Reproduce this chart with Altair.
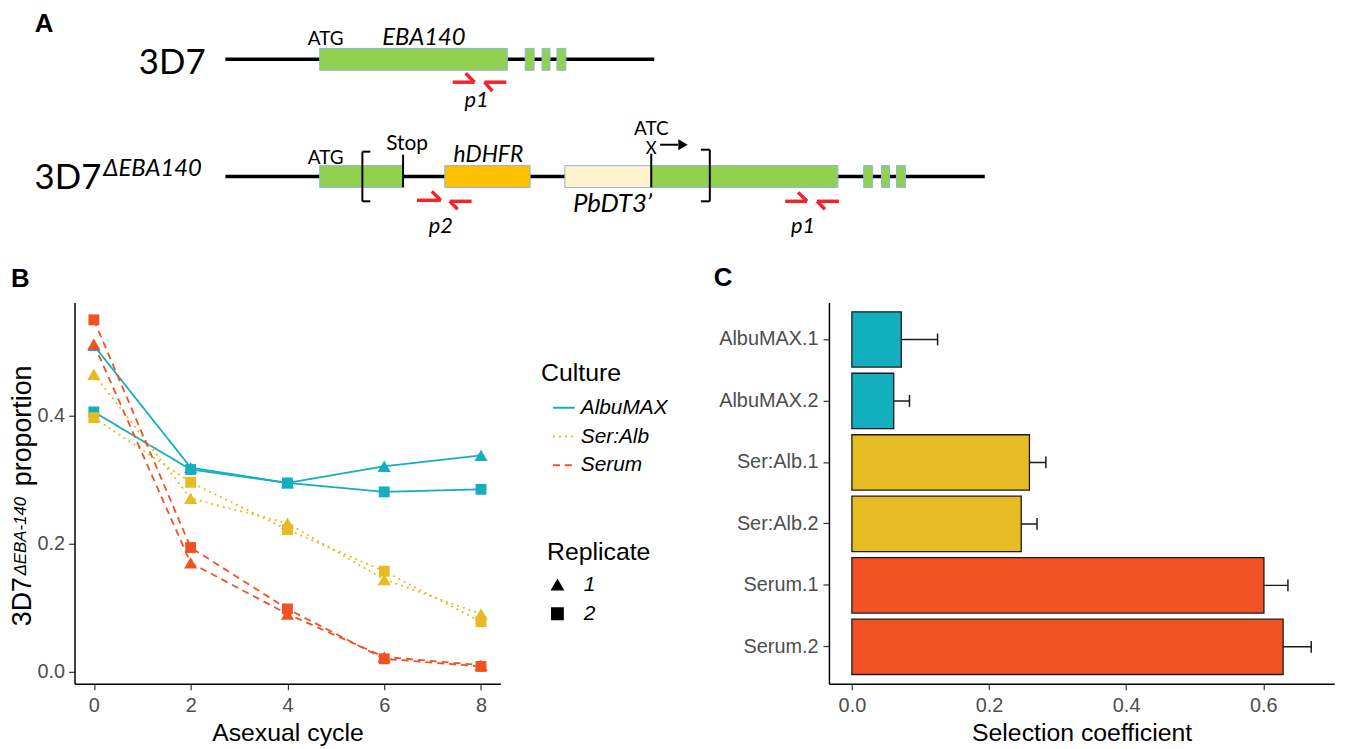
import altair as alt
import pandas as pd

# ---------------- Panel B: proportion over asexual cycles ----------------
cycles = [0, 2, 4, 6, 8]
albumax_1 = [0.510, 0.319, 0.295, 0.321, 0.338]
albumax_2 = [0.406, 0.316, 0.295, 0.281, 0.285]
seralb_1 = [0.465, 0.271, 0.232, 0.144, 0.090]
seralb_2 = [0.397, 0.296, 0.222, 0.157, 0.078]
serum_1 = [0.512, 0.170, 0.090, 0.023, 0.010]
serum_2 = [0.550, 0.194, 0.098, 0.020, 0.008]

cultures = ["AlbuMAX", "Ser:Alb", "Serum"]
replicates = ["1", "2"]
culture_colors = ["#14AFBF", "#E6BB23", "#F05223"]
culture_dashes = [[1, 0], [2, 4], [7, 5]]

# ---------------- Panel C: selection coefficients ----------------
sel_labels = ["AlbuMAX.1", "AlbuMAX.2", "Ser:Alb.1", "Ser:Alb.2", "Serum.1", "Serum.2"]
sel_culture = ["AlbuMAX", "AlbuMAX", "Ser:Alb", "Ser:Alb", "Serum", "Serum"]
sel_coef = [0.072, 0.061, 0.259, 0.247, 0.601, 0.629]
sel_err = [0.053, 0.023, 0.024, 0.023, 0.035, 0.041]

# ---------------- Panel A: gene schematic (diagram units) ----------------
backbone_x1 = [225, 225]
backbone_x2 = [657, 990]
backbone_y = [57, 175]

box_x1 = [320, 527, 544, 559, 320, 446, 567, 654, 868, 886, 901]
box_x2 = [509, 536, 552, 568, 404, 532, 654, 842, 877, 894, 910]
box_y1 = [46, 46, 46, 46, 164, 164, 164, 164, 164, 164, 164]
box_y2 = [68, 68, 68, 68, 186, 186, 186, 186, 186, 186, 186]
box_part = ["exon", "exon", "exon", "exon", "exon", "hDHFR", "PbDT3", "exon", "exon", "exon", "exon"]
part_colors = {"exon": "#92D050", "hDHFR": "#FFC000", "PbDT3": "#FFF2CC"}

# black marks: stop codon, brackets, ATC mutation line, arrow shaft
seg_x1 = [404, 363, 363, 363, 713, 704, 704, 654, 663]
seg_y1 = [153, 150, 150, 200, 148, 148, 200, 152, 143]
seg_x2 = [404, 363, 371, 371, 713, 713, 713, 654, 681]
seg_y2 = [186, 200, 150, 200, 200, 148, 200, 186, 143]
arrow_x = [686]
arrow_y = [143]

# primer half-arrows
pr_x1 = [454, 467, 486, 486, 418, 433, 451, 451, 789, 802, 821, 821]
pr_y1 = [80, 71, 80, 80, 199, 190, 200, 200, 200, 191, 200, 200]
pr_x2 = [476, 476, 508, 494, 442, 442, 473, 459, 811, 811, 843, 829]
pr_y2 = [80, 80, 80, 89, 199, 199, 200, 208, 200, 200, 200, 208]

txt_label = ["3D7", "ATG", "EBA140", "p1", "3D7", "\u0394EBA140", "ATG", "Stop",
             "hDHFR", "PbDT3\u2019", "ATC", "X", "p2", "p1"]
txt_x = [205, 326, 425, 478, 100, 102, 326, 408, 490, 615, 654, 654, 442, 807]
txt_y = [72, 43, 43, 105, 188, 175, 162, 148, 160, 211, 133, 152, 232, 232]
txt_size = [35, 19, 24, 22, 35, 24, 19, 21, 23, 26, 19, 17, 22, 22]
txt_kind = ["normal-right", "normal-center", "italic-center", "italic-center",
            "normal-right", "italic-left", "normal-center", "normal-center", "italic-center",
            "italic-center", "normal-center", "normal-center", "italic-center", "italic-center"]

FONT = "Liberation Sans"
AFONT = "Lato"
color_of = dict(zip(cultures, culture_colors))
point_size_of = {"1": 175, "2": 120}

# ================= Panel A =================
xA = alt.Scale(domain=[73, 1369], nice=False, zero=False)
yA = alt.Scale(domain=[8, 250], nice=False, zero=False, reverse=True)

bb = pd.DataFrame({"x": backbone_x1, "x2": backbone_x2, "y": backbone_y})
boxes = pd.DataFrame({"x": box_x1, "x2": box_x2, "y": box_y1, "y2": box_y2,
                      "fill": [part_colors[p] for p in box_part]})
segs = pd.DataFrame({"x": seg_x1, "y": seg_y1, "x2": seg_x2, "y2": seg_y2})
prim = pd.DataFrame({"x": pr_x1, "y": pr_y1, "x2": pr_x2, "y2": pr_y2})
arrow = pd.DataFrame({"x": arrow_x, "y": arrow_y})
texts = pd.DataFrame({"label": txt_label, "x": txt_x, "y": txt_y, "size": txt_size, "kind": txt_kind})

def AX(f):
    return alt.X(f"{f}:Q", scale=xA, axis=None)

def AY(f):
    return alt.Y(f"{f}:Q", scale=yA, axis=None)

a_backbone = alt.Chart(bb).mark_rule(color="black", strokeWidth=3.5).encode(
    x=AX("x"), x2="x2", y=AY("y"))
a_boxes = alt.Chart(boxes).mark_rect(stroke="#8EB4E3", strokeWidth=1).encode(
    x=AX("x"), x2="x2", y=AY("y"), y2="y2", fill=alt.Fill("fill:N", scale=None))
a_segs = alt.Chart(segs).mark_rule(color="black", strokeWidth=2).encode(
    x=AX("x"), y=AY("y"), x2="x2", y2="y2")
a_prim = alt.Chart(prim).mark_rule(color="#F5222B", strokeWidth=3.5, strokeCap="butt").encode(
    x=AX("x"), y=AY("y"), x2="x2", y2="y2")
a_arrow = alt.Chart(arrow).mark_point(shape="triangle-right", filled=True, size=120,
                                      color="black", opacity=1).encode(x=AX("x"), y=AY("y"))

text_layers = []
for kind in sorted(set(txt_kind)):
    style, align = kind.split("-")
    opts = dict(align=align, baseline="alphabetic", color="black", font=AFONT)
    if style == "italic":
        opts.update(fontStyle="italic")
    sub = texts[texts["kind"] == kind]
    text_layers.append(alt.Chart(sub).mark_text(**opts).encode(
        x=AX("x"), y=AY("y"), text="label:N", size=alt.Size("size:Q", scale=None)))

one = pd.DataFrame({"t": [""]})
a_label = alt.Chart(one).mark_text(text="A", font=FONT, fontWeight="bold", fontSize=26,
                                   align="left", baseline="top", color="black").encode(
    x=alt.value(33 - 73), y=alt.value(0))

panelA = alt.layer(a_backbone, a_boxes, a_segs, a_prim, a_arrow, *text_layers, a_label).properties(
    width=1296, height=242)

# ================= Panel B =================
series = {("AlbuMAX", "1"): albumax_1, ("AlbuMAX", "2"): albumax_2,
          ("Ser:Alb", "1"): seralb_1, ("Ser:Alb", "2"): seralb_2,
          ("Serum", "1"): serum_1, ("Serum", "2"): serum_2}
rows = []
for (cul, rep), vals in series.items():
    for c, v in zip(cycles, vals):
        rows.append({"cycle": c, "prop": v, "culture": cul, "rep": rep,
                     "hex": color_of[cul], "psize": point_size_of[rep]})
df_b = pd.DataFrame(rows)

xB = alt.X("cycle:Q", scale=alt.Scale(domain=[-0.4, 8.4], nice=False, zero=False),
           axis=alt.Axis(values=cycles, title="Asexual cycle", labelPadding=6, titlePadding=5))
yB = alt.Y("prop:Q", scale=alt.Scale(domain=[-0.019, 0.577], nice=False, zero=False),
           axis=alt.Axis(values=[0, 0.2, 0.4], format=".1f", title=None, labelPadding=4))

color_scale = alt.Scale(domain=cultures, range=culture_colors)
leg_common = dict(orient="none", titleFontSize=25, titleFont=FONT, titleFontWeight="normal",
                  titleColor="black", labelFontSize=21, labelFont=FONT, labelFontStyle="italic",
                  labelColor="black", rowPadding=7, titlePadding=10, padding=0)
cult_legend = alt.Legend(title="Culture", legendX=470, legendY=353, symbolType="stroke",
                         symbolSize=484, symbolStrokeWidth=2, symbolOffset=11, labelOffset=5,
                         **leg_common)

b_lines = alt.Chart(df_b).mark_line(strokeWidth=1.8).encode(
    x=xB, y=yB,
    color=alt.Color("culture:N", scale=color_scale, legend=cult_legend),
    strokeDash=alt.StrokeDash("culture:N", scale=alt.Scale(domain=cultures, range=culture_dashes),
                              legend=cult_legend),
    detail="rep:N")
b_points = alt.Chart(df_b).mark_point(filled=True, opacity=1).encode(
    x=xB, y=yB,
    fill=alt.Fill("hex:N", scale=None),
    size=alt.Size("psize:Q", scale=None),
    shape=alt.Shape("rep:N", scale=alt.Scale(domain=replicates, range=["triangle-up", "square"]),
                    legend=alt.Legend(title="Replicate", legendX=476, legendY=533,
                                      symbolFillColor="black", symbolStrokeColor="black",
                                      symbolSize=130, labelOffset=16, **leg_common)))

b_label = alt.Chart(one).mark_text(text="B", font=FONT, fontWeight="bold", fontSize=26,
                                   align="left", baseline="alphabetic", color="black").encode(
    x=alt.value(-64), y=alt.value(-16))
yt1 = alt.Chart(one).mark_text(text="3D7", font=FONT, fontSize=27, angle=270, align="left",
                               baseline="alphabetic", color="black").encode(
    x=alt.value(-44), y=alt.value(326))
yt2 = alt.Chart(one).mark_text(text="\u0394EBA-140", font=FONT, fontSize=17, fontStyle="italic",
                               angle=270, align="left", baseline="alphabetic", color="black").encode(
    x=alt.value(-48.5), y=alt.value(275))
yt3 = alt.Chart(one).mark_text(text="proportion", font=FONT, fontSize=27, angle=270, align="left",
                               baseline="alphabetic", color="black").encode(
    x=alt.value(-44), y=alt.value(185))

panelB = alt.layer(b_lines, b_points, b_label, yt1, yt2, yt3).properties(width=429, height=384)

# ================= Panel C =================
df_c = pd.DataFrame({"label": sel_labels, "culture": sel_culture, "coef": sel_coef,
                     "hex": [color_of[c] for c in sel_culture],
                     "base": [0.0] * len(sel_coef),
                     "lo": [c - e for c, e in zip(sel_coef, sel_err)],
                     "hi": [c + e for c, e in zip(sel_coef, sel_err)]})

yC = alt.Y("label:N", sort=sel_labels,
           scale=alt.Scale(domain=sel_labels, paddingInner=0.1, paddingOuter=0.15),
           axis=alt.Axis(title=None, labelPadding=5))
xC_scale = alt.Scale(domain=[-0.0335, 0.7035], nice=False, zero=False)
xC_axis = alt.Axis(values=[0, 0.2, 0.4, 0.6], format=".1f", title="Selection coefficient",
                   labelPadding=6, titlePadding=5)

c_err = alt.Chart(df_c).mark_rule(color="#1a1a1a", strokeWidth=1.5).encode(
    x=alt.X("lo:Q", scale=xC_scale, axis=xC_axis), x2="hi", y=yC)
c_cap_hi = alt.Chart(df_c).mark_tick(color="#1a1a1a", thickness=1.5, size=12, opacity=1).encode(
    x=alt.X("hi:Q", scale=xC_scale, axis=xC_axis), y=yC)
c_cap_lo = alt.Chart(df_c).mark_tick(color="#1a1a1a", thickness=1.5, size=12, opacity=1).encode(
    x=alt.X("lo:Q", scale=xC_scale, axis=xC_axis), y=yC)
c_bars = alt.Chart(df_c).mark_bar(stroke="#1a1a1a", strokeWidth=1.3, opacity=1).encode(
    x=alt.X("base:Q", scale=xC_scale, axis=xC_axis), x2="coef", y=yC,
    fill=alt.Fill("hex:N", scale=None))
c_label = alt.Chart(one).mark_text(text="C", font=FONT, fontWeight="bold", fontSize=26,
                                   align="left", baseline="alphabetic", color="black").encode(
    x=alt.value(-116), y=alt.value(-17))

panelC = alt.layer(c_err, c_cap_hi, c_cap_lo, c_bars, c_label).properties(width=509, height=384)

row2 = alt.hconcat(panelB, panelC, spacing=331, bounds="flush")
chart = alt.vconcat(panelA, row2, spacing=52, bounds="flush").properties(
    padding=0, background="white"
).configure_view(strokeWidth=0).configure_axis(
    grid=False, domainColor="black", domainWidth=1.5, tickColor="#333333", tickWidth=1.2,
    tickSize=6, labelFont=FONT, labelFontSize=20, labelColor="#4D4D4D", titleFont=FONT,
    titleFontSize=25, titleFontWeight="normal", titleColor="black")

chart.save("out.html", embed_options={"renderer": "svg", "actions": False})
